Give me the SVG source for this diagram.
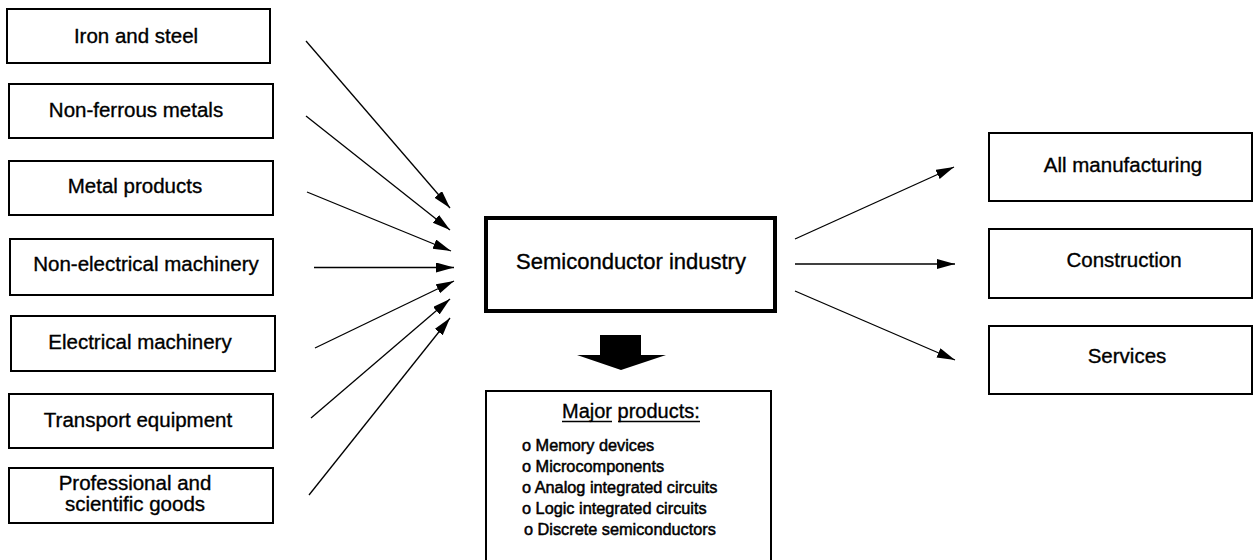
<svg xmlns="http://www.w3.org/2000/svg" width="1254" height="560" viewBox="0 0 1254 560">
  <style>
    .box { fill: #fff; stroke: #000; stroke-width: 2; }
    .main { fill: #fff; stroke: #000; stroke-width: 4; }
    .lbl { font-family: "Liberation Sans", Arial, Helvetica, sans-serif; font-size: 20.5px; fill: #000; stroke: #000; stroke-width: 0.35; text-anchor: middle; }
    .big { font-size: 22px; }
    .item { font-family: "Liberation Sans", Arial, Helvetica, sans-serif; font-size: 16.3px; fill: #000; stroke: #000; stroke-width: 0.5; }
    .conn { stroke: #000; stroke-width: 1.3; fill: none; marker-end: url(#head); }
  </style>
  <defs>
    <marker id="head" markerUnits="userSpaceOnUse" markerWidth="19" markerHeight="11" refX="18" refY="5" orient="auto">
      <path d="M0,0 L18,5 L0,10 Z" fill="#000"/>
    </marker>
  </defs>
  <rect width="1254" height="560" fill="#fff"/>

  <!-- input sectors -->
  <g id="iron-steel">
    <rect class="box" x="7" y="9" width="263" height="54"/>
    <text class="lbl" x="136" y="43">Iron and steel</text>
  </g>
  <g id="non-ferrous">
    <rect class="box" x="9" y="84" width="264" height="54"/>
    <text class="lbl" x="136" y="117">Non-ferrous metals</text>
  </g>
  <g id="metal-products">
    <rect class="box" x="9" y="161" width="264" height="54"/>
    <text class="lbl" x="135" y="193">Metal products</text>
  </g>
  <g id="non-electrical">
    <rect class="box" x="10" y="239" width="263" height="56"/>
    <text class="lbl" x="146" y="271">Non-electrical machinery</text>
  </g>
  <g id="electrical">
    <rect class="box" x="11" y="316" width="264" height="55"/>
    <text class="lbl" x="140" y="349">Electrical machinery</text>
  </g>
  <g id="transport">
    <rect class="box" x="9" y="394" width="264" height="54"/>
    <text class="lbl" x="138" y="427">Transport equipment</text>
  </g>
  <g id="professional">
    <rect class="box" x="9" y="468" width="264" height="55"/>
    <text class="lbl" x="135" y="490">Professional and</text>
    <text class="lbl" x="135" y="511">scientific goods</text>
  </g>

  <!-- central industry -->
  <g id="semiconductor">
    <rect class="main" x="486" y="218" width="289" height="93"/>
    <text class="lbl big" x="631" y="269">Semiconductor industry</text>
  </g>

  <!-- output block arrow -->
  <g id="block-arrow">
    <path d="M600,335 L641,335 L641,355 L666,355 L621,370 L577,355 L600,355 Z" fill="#000"/>
  </g>

  <!-- products list -->
  <g id="major-products">
    <path class="box" d="M486,566 L486,391 L771,391 L771,566"/>
    <text class="lbl" style="font-size:20px;text-anchor:start" x="562" y="418">Major products:</text>
    <line x1="562" y1="421.5" x2="612" y2="421.5" stroke="#000" stroke-width="1.4"/>
    <line x1="618" y1="421.5" x2="700" y2="421.5" stroke="#000" stroke-width="1.4"/>
    <text class="item" x="522" y="451">o Memory devices</text>
    <text class="item" x="522" y="472">o Microcomponents</text>
    <text class="item" x="522" y="493">o Analog integrated circuits</text>
    <text class="item" x="522" y="514">o Logic integrated circuits</text>
    <text class="item" x="524" y="535">o Discrete semiconductors</text>
  </g>

  <!-- user sectors -->
  <g id="all-manufacturing">
    <rect class="box" x="989" y="133" width="263" height="68"/>
    <text class="lbl" x="1123" y="172">All manufacturing</text>
  </g>
  <g id="construction">
    <rect class="box" x="989" y="229" width="263" height="69"/>
    <text class="lbl" x="1124" y="267">Construction</text>
  </g>
  <g id="services">
    <rect class="box" x="989" y="326" width="263" height="68"/>
    <text class="lbl" x="1127" y="363">Services</text>
  </g>

  <!-- connectors -->
  <g id="connectors">
    <line class="conn" x1="306" y1="41" x2="450" y2="208"/>
    <line class="conn" x1="306" y1="116" x2="450" y2="230"/>
    <line class="conn" x1="307" y1="192" x2="451" y2="251"/>
    <line class="conn" x1="314" y1="267.5" x2="454" y2="267.5"/>
    <line class="conn" x1="315" y1="348" x2="454" y2="281"/>
    <line class="conn" x1="311" y1="418" x2="450" y2="299"/>
    <line class="conn" x1="309" y1="495" x2="450" y2="318"/>
    <line class="conn" x1="795" y1="239" x2="954" y2="167"/>
    <line class="conn" x1="795" y1="264" x2="955" y2="264"/>
    <line class="conn" x1="795" y1="291" x2="955" y2="360"/>
  </g>
</svg>
